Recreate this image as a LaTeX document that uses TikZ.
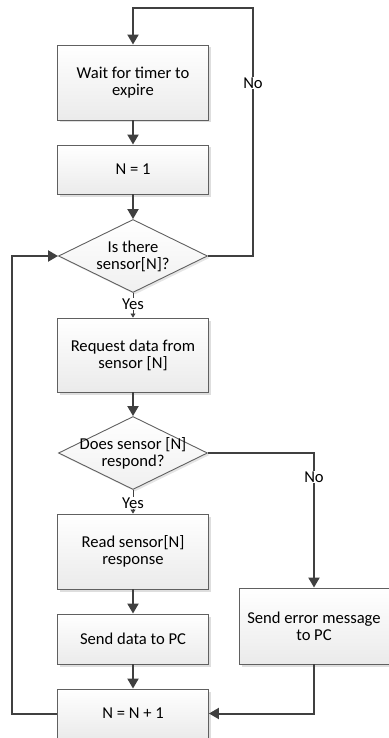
\documentclass[tikz,border=0pt]{standalone}
\usepackage{fontspec}
\setmainfont{Carlito}
\usetikzlibrary{shapes.geometric,arrows.meta,shadows}
\definecolor{linec}{HTML}{404040}
\definecolor{boxb}{HTML}{606060}
\begin{document}
\begin{tikzpicture}[x=1pt,y=-1pt,
  txt/.style={font=\fontsize{16.6}{17}\selectfont, align=center},
  box/.style={txt, draw=boxb, line width=0.9pt, top color=white, bottom color=black!8,
    minimum width=151pt, inner sep=0pt,
    general shadow={fill=black!13, shadow xshift=2.5pt, shadow yshift=-2.5pt}},
  dia/.style={diamond, draw=boxb, line width=0.9pt, top color=white, bottom color=black!6,
    minimum width=149pt, minimum height=73pt, inner sep=0pt,
    general shadow={fill=black!10, shadow xshift=2pt, shadow yshift=-2pt}},
  conn/.style={draw=linec, line width=2pt, -{Triangle[length=10pt,width=11pt]}},
  thin/.style={draw=linec, line width=0.8pt, -{Triangle[length=4pt,width=5pt]}},
  lbl/.style={txt, fill=white, inner sep=1pt},
]
\useasboundingbox (0,0) rectangle (388,738);
% boxes
\node[box, minimum height=75pt] (b1) at (133,82.5) {Wait for timer to\\expire};
\node[box, minimum height=49pt] (b2) at (133,169.5) {N = 1};
\node[dia] (d1) at (133,256) {};
\node[txt] (d1t) at (133,256) {Is there\\sensor[N]?};
\node[box, minimum height=74pt] (b3) at (133,355) {Request data from\\sensor [N]};
\node[dia] (d2) at (133,453) {};
\node[txt] (d2t) at (133,453) {Does sensor [N]\\respond?};
\node[box, minimum height=75pt] (b4) at (133,551.5) {Read sensor[N]\\response};
\node[box, minimum height=50pt] (b5) at (133,639) {Send data to PC};
\node[box, minimum height=49pt] (b6) at (133,713.5) {N = N + 1};
\node[box, minimum height=76pt, minimum width=150pt] (err) at (314,626) {Send error message\\to PC};
% helper coordinates
\coordinate (topr) at (253,8);
\coordinate (lb) at (12,713.5);
% connectors
\draw[conn] (d1.east) -| (topr) -| (b1.north);
\node[lbl] (no1) at (253,83) {No};
\draw[conn] (b1) -- (b2);
\draw[conn] (b2) -- (d1.north);
\draw[thin] (d1.south) -- (b3.north);
\node[lbl] (yes1) at (133,304) {Yes};
\draw[conn] (b3) -- (d2.north);
\draw[conn] (d2.east) -| (err.north);
\node[lbl] (no2) at (314,477) {No};
\draw[thin] (d2.south) -- (b4.north);
\node[lbl] (yes2) at (133,503) {Yes};
\draw[conn] (b4) -- (b5);
\draw[conn] (b5) -- (b6);
\draw[conn] (err.south) |- (b6.east);
\draw[conn] (b6.west) -- (lb) |- (d1.west);
\end{tikzpicture}
\end{document}
